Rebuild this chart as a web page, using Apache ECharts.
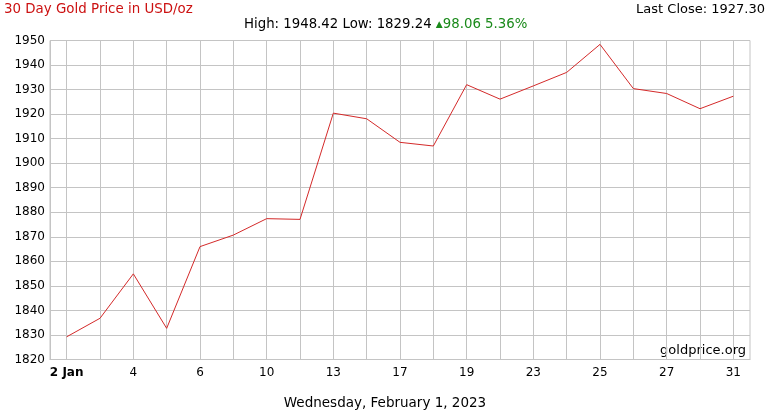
<!DOCTYPE html>
<html><head><meta charset="utf-8">
<script src="https://cdn.jsdelivr.net/npm/echarts@6/dist/echarts.min.js"></script>
<style>html,body{margin:0;padding:0;background:#fff}#c{width:770px;height:410px}</style>
</head><body><div id="c"></div>
<script>
const categories = ['2 Jan','3','4','5','6','9','10','12','13','16','17','18','19','20','23','24','25','26','27','30','31'];
const prices = [1829.24,1836.8,1854.9,1832.7,1866.0,1870.7,1877.4,1877.1,1920.4,1918.1,1908.5,1907.0,1932.0,1926.1,1931.5,1937.0,1948.42,1930.4,1928.4,1922.2,1927.30];
const yTicks = {min:1820, max:1950, step:10};
const titleText = '30 Day Gold Price in USD/oz';
const lastCloseText = 'Last Close: 1927.30';
const statsText = 'High: 1948.42 Low: 1829.24 ';
const changeText = '98.06 5.36%';
const dateText = 'Wednesday, February 1, 2023';
const sourceText = 'goldprice.org';

const FONT = 'DejaVu Sans';
const chart = echarts.init(document.getElementById('c'), null, {renderer:'canvas'});
chart.setOption({
  animation:false,
  backgroundColor:'#fff',
  textStyle:{fontFamily:FONT},
  grid:{left:50,right:20,top:40.5,bottom:50.5,show:true,borderColor:'#c4c4c4',borderWidth:1,containLabel:false},
  xAxis:{
    type:'category', data:categories, boundaryGap:true,
    axisLine:{show:true,lineStyle:{color:'#c4c4c4'}},
    axisTick:{show:false},
    axisLabel:{interval:1,margin:7,color:'#000',fontFamily:FONT,fontSize:12,
      formatter:function(v,i){return i===0?'{b|'+v+'}':v;},
      rich:{b:{fontWeight:'bold',fontFamily:FONT,fontSize:12,color:'#000'}}},
    splitLine:{show:true,interval:0,alignWithLabel:true,lineStyle:{color:'#c4c4c4',width:1}}
  },
  yAxis:{
    type:'value', min:yTicks.min, max:yTicks.max, interval:yTicks.step,
    axisLine:{show:true,lineStyle:{color:'#c4c4c4'}},
    axisTick:{show:false},
    axisLabel:{margin:5,color:'#000',fontFamily:FONT,fontSize:12,formatter:function(v){return String(v);}},
    splitLine:{show:true,lineStyle:{color:'#c4c4c4',width:1}}
  },
  series:[{type:'line',data:prices,symbol:'none',lineStyle:{color:'#d42a2a',width:1},silent:true}],
  graphic:[
    {type:'text',left:4,top:3,style:{text:titleText,fill:'#cc1111',font:'13.4px "'+FONT+'"'}},
    {type:'text',right:5,top:3,style:{text:lastCloseText,fill:'#000',font:'13px "'+FONT+'"'}},
    {type:'text',left:244,top:18,style:{
      rich:{a:{fill:'#000',fontFamily:FONT,fontSize:13.3},g:{fill:'#1a8a1a',fontFamily:FONT,fontSize:13.3},t:{fill:'#1a8a1a',fontFamily:FONT,fontSize:9}},
      text:'{a|'+statsText+'}{t|▲}{g|'+changeText+'}'}},
    {type:'text',right:24,top:344,style:{text:sourceText,fill:'#000',font:'13px "'+FONT+'"'}},
    {type:'text',left:'center',top:396,style:{text:dateText,fill:'#000',font:'13.5px "'+FONT+'"'}}
  ]
});
</script></body></html>
